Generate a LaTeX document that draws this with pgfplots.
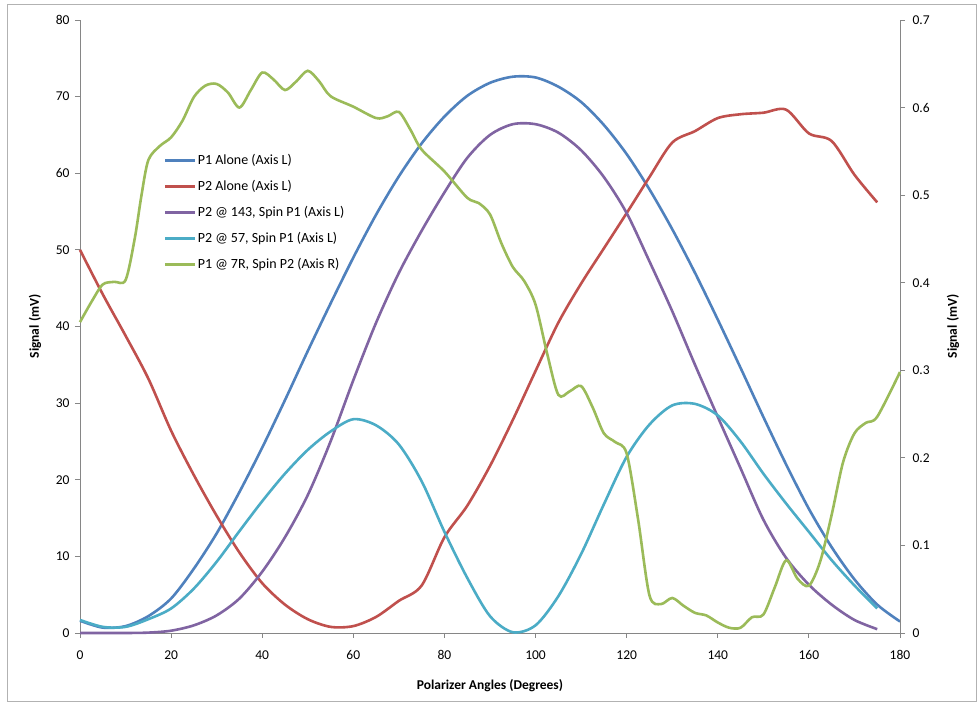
\documentclass[border=0pt]{standalone}
\usepackage{fontspec}
\setmainfont{Carlito}
\usepackage{pgfplots}
\pgfplotsset{compat=1.18}

\definecolor{p1blue}{HTML}{4F81BD}
\definecolor{p2red}{HTML}{C0504D}
\definecolor{spinpurple}{HTML}{8064A2}
\definecolor{spincyan}{HTML}{4BACC6}
\definecolor{spingreen}{HTML}{9BBB59}
\definecolor{axisgray}{HTML}{868686}

\pgfplotsset{
  chartbase/.style={
    scale only axis, width=820pt, height=613pt,
    at={(80pt,75pt)}, anchor=south west,
    xmin=0, xmax=180,
    clip=false,
    axis line style={-, axisgray, line width=0.9pt},
    tick style={axisgray, line width=0.9pt},
    major tick length=5pt,
    tick align=outside,
    ticklabel style={font=\fontsize{13.5}{15}\selectfont, text=black},
    /pgf/number format/assume math mode=true,
    label style={font=\bfseries\fontsize{13.5}{15}\selectfont},
    every axis plot/.append style={line width=2.6pt, smooth, tension=0.5},
  },
}

\begin{document}
\begin{tikzpicture}
\useasboundingbox (0,0) rectangle (979pt,708pt);
\fill[white] (0,0) rectangle (979pt,708pt);
\draw[gray!60, line width=0.8pt] (7pt,7pt) rectangle (976pt,704pt);

% Primary axis: signals read on the left scale
\begin{axis}[chartbase,
  axis x line*=bottom, axis y line*=left,
  ymin=0, ymax=80,
  xtick={0,20,...,180}, ytick={0,10,...,80},
  xticklabel style={yshift=-9pt},
  yticklabel style={xshift=-2pt},
  xlabel={Polarizer Angles (Degrees)},
  ylabel={Signal (mV)},
  xlabel style={at={(axis description cs:0.5,-0.0865)}, anchor=center},
  ylabel style={at={(axis description cs:-0.055,0.5)}, anchor=center},
]
% P1 Alone
\addplot[p1blue] coordinates {
(0,1.6) (5,0.7) (10,0.9) (15,2.2) (20,4.5) (25,8.4) (30,13.0) (35,18.4)
(40,24.2) (45,30.4) (50,36.8) (55,43.0) (60,49.0) (65,54.6) (70,59.6)
(75,63.9) (80,67.4) (85,70.1) (90,71.8) (95,72.6) (100,72.5) (105,71.3)
(110,69.3) (115,66.3) (120,62.5) (125,57.9) (130,52.7) (135,47.0)
(140,40.9) (145,34.6) (150,28.2) (155,22.0) (160,16.2) (165,11.2)
(170,7.0) (175,3.7) (180,1.5)
};
% P2 Alone
\addplot[p2red] coordinates {
(0,50.0) (5,44.2) (10,38.8) (15,33.2) (20,26.4) (25,20.6) (30,15.3)
(35,10.5) (40,6.5) (45,3.7) (50,1.8) (55,0.8) (60,0.9) (65,2.1) (70,4.2)
(75,6.2) (80,12.5) (85,16.6) (90,21.8) (95,27.8) (100,34.2) (105,40.5)
(110,45.6) (115,50.2) (120,54.8) (125,59.5) (130,64.0) (135,65.5)
(140,67.2) (145,67.7) (150,67.9) (155,68.3) (160,65.2) (165,64.2)
(170,59.8) (175,56.2)
};
% P2 @ 143, spin P1
\addplot[spinpurple] coordinates {
(0,0.0) (5,0.0) (10,0.0) (15,0.05) (20,0.3) (25,1.0) (30,2.3) (35,4.5)
(40,8.0) (45,12.5) (50,18.0) (55,25.0) (60,33.0) (65,40.5) (70,47.0)
(75,52.5) (80,57.5) (85,62.0) (90,65.0) (95,66.4) (100,66.4) (105,65.3)
(110,63.0) (115,59.5) (120,54.8) (125,48.5) (130,42.0) (135,35.0)
(140,28.2) (145,21.5) (150,14.8) (155,9.8) (160,6.3) (165,3.7)
(170,1.7) (175,0.5)
};
% P2 @ 57, spin P1
\addplot[spincyan] coordinates {
(0,1.7) (5,0.8) (10,0.8) (15,1.8) (20,3.2) (25,5.8) (30,9.3) (35,13.3)
(40,17.2) (45,20.8) (50,23.9) (55,26.3) (60,27.9) (65,27.1) (70,24.6)
(75,19.8) (80,13.2) (85,7.2) (90,2.2) (95,0.1) (100,1.0) (105,4.8)
(110,10.3) (115,16.8) (120,23.0) (125,27.2) (130,29.7) (135,29.9)
(140,28.4) (145,25.0) (150,20.8) (155,16.9) (160,13.2) (165,9.5)
(170,6.2) (175,3.2)
};
\end{axis}

% Secondary axis: P1 @ 7R on the right scale
\begin{axis}[chartbase,
  axis x line=none, axis y line*=right,
  ymin=0, ymax=0.7,
  ytick={0,0.1,0.2,0.3,0.4,0.5,0.6,0.7},
  yticklabel style={xshift=4pt, /pgf/number format/.cd, fixed, precision=1},
  ylabel={Signal (mV)},
  ylabel style={at={(axis description cs:1.0646,0.5)}, anchor=center},
  legend style={draw=none, fill=none, inner sep=0pt,
    at={(axis description cs:0.1024,0.783)}, anchor=north west,
    font=\fontsize{14}{16}\selectfont, row sep=11pt,
    nodes={inner sep=1pt, text height=10pt, text depth=3pt}},
  legend cell align=left,
  legend image code/.code={\draw[#1, line width=2.6pt] (0pt,0pt) -- (30pt,0pt);},
]
\addlegendimage{p1blue}
\addlegendentry{P1 Alone (Axis L)}
\addlegendimage{p2red}
\addlegendentry{P2 Alone (Axis L)}
\addlegendimage{spinpurple}
\addlegendentry{P2 @ 143, Spin P1 (Axis L)}
\addlegendimage{spincyan}
\addlegendentry{P2 @ 57, Spin P1 (Axis L)}
\addplot[spingreen] coordinates {
(0,0.355) (2.5,0.378) (5,0.398) (7.5,0.401) (10,0.403) (12,0.450)
(13.5,0.500) (15,0.540) (17.5,0.556) (20,0.566) (22.5,0.585) (25,0.612)
(27.5,0.625) (30,0.627) (32.5,0.617) (35,0.600) (37.5,0.620) (40,0.640)
(42.5,0.632) (45,0.620) (47.5,0.630) (50,0.642) (52.5,0.630) (55,0.613)
(60,0.601) (65,0.588) (67.5,0.590) (70,0.595) (72.5,0.575) (75,0.552)
(80,0.527) (85,0.497) (87.5,0.491) (90,0.478) (92.5,0.445) (95,0.418)
(97.5,0.402) (100,0.375) (102.5,0.320) (105,0.272) (107.5,0.276)
(110,0.282) (112.5,0.258) (115,0.228) (117.5,0.218) (120,0.205)
(122.5,0.130) (125,0.043) (127.5,0.033) (130,0.040) (132.5,0.031)
(135,0.023) (137.5,0.020) (140,0.012) (142.5,0.006) (145,0.006)
(147.5,0.018) (150,0.021) (152.5,0.052) (155,0.083) (157.5,0.062)
(160,0.054) (162.5,0.082) (165,0.135) (167.5,0.195) (170,0.228)
(172.5,0.240) (175,0.247) (180,0.298)
};
\addlegendentry{P1 @ 7R, Spin P2 (Axis R)}
\end{axis}
\end{tikzpicture}
\end{document}
